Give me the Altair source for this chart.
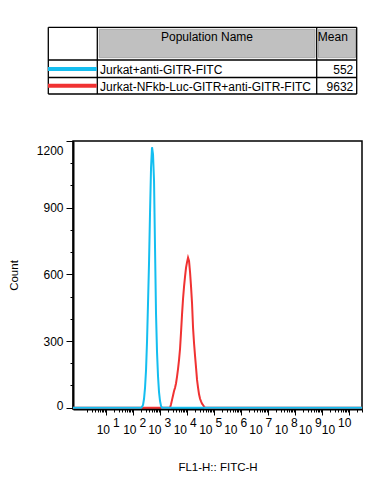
import altair as alt
import pandas as pd

FONT = "Liberation Sans"

# ---------------- data ----------------
# FITC-H intensity of each histogram bin and its event count
blue_x = [199, 217, 236, 257, 280, 305, 332, 361, 393, 429, 467, 508, 553, 603,
          656, 715, 778, 848, 923, 1005, 1095, 1192]
blue_count = [0, 4, 12, 40, 90, 170, 300, 470, 650, 880, 1080, 1172, 1140, 1020,
              720, 420, 250, 140, 70, 30, 8, 0]

red_x = [2358, 2568, 2797, 3046, 3317, 3613, 3934, 4285, 4666, 5081, 5534, 6026,
         6562, 7147, 7783, 8476, 9231, 10051, 10946, 11920, 12982, 14138, 15396,
         16765, 18259, 19885, 21655, 23583, 25681, 27969, 30459, 33167, 36122,
         39337, 42843, 46656]
red_count = [0, 15, 35, 55, 75, 90, 110, 140, 175, 215, 265, 340, 420, 490, 545,
             590, 630, 655, 675, 660, 610, 545, 470, 360, 290, 233, 180, 125, 90,
             60, 40, 28, 18, 12, 5, 0]

series_names = ["Jurkat+anti-GITR-FITC", "Jurkat-NFkb-Luc-GITR+anti-GITR-FITC"]
series_means = ["552", "9632"]
series_colors = ["#14BEF0", "#F03232"]
header_labels = ["Population Name", "Mean"]

x_domain = [0.6026, 3.02e10]
y_domain = [-6, 1200]
y_tick_values = [0, 100, 200, 300, 400, 500, 600, 700, 800, 900, 1000, 1100, 1200]
x_tick_mantissas = [1, 2, 3, 4, 5, 6, 7, 8, 9]
x_tick_decades = [0, 1, 2, 3, 4, 5, 6, 7, 8, 9, 10]
x_label_exponents = ["1", "2", "3", "4", "5", "6", "7", "8", "9", "10"]
x_label_log_pos = [1.2615, 2.243, 3.1689, 4.1133, 5.0578, 5.9837, 6.9096,
                   7.8541, 8.743, 9.5948]

# ---------------- frames ----------------
def series_frame(xs, counts):
    return pd.DataFrame({"fitc": [x_domain[0]] + xs + [x_domain[1]],
                         "count": [0] + counts + [0]})

blue_df = series_frame(blue_x, blue_count)
red_df = series_frame(red_x, red_count)

x_ticks = [m * 10 ** d for d in x_tick_decades for m in x_tick_mantissas
           if x_domain[0] <= m * 10 ** d <= x_domain[1] and not (d == 0 and m == 1)]

labels_df = pd.DataFrame({"fitc": [10 ** v for v in x_label_log_pos],
                          "exp": x_label_exponents, "base": "10"})

xscale = alt.Scale(type="log", domain=x_domain, nice=False)
yscale = alt.Scale(domain=y_domain, nice=False, zero=False)

x_axis = alt.Axis(
    values=x_ticks, labels=False, grid=False,
    tickSize={"condition": {"test": "abs(log(datum.value)/LN10 - round(log(datum.value)/LN10)) < 0.000001",
                            "value": 6}, "value": 3},
    tickColor="black", tickWidth=1, domainColor="black", domainWidth=2,
    title="FL1-H:: FITC-H", titleFontSize=11.5, titlePadding=46,
)
y_axis = alt.Axis(
    values=y_tick_values, grid=False,
    labelExpr="datum.value % 300 === 0 ? '' + datum.value : ''",
    labelOverlap=False, labelFontSize=12, labelPadding=3,
    labelOffset={"condition": [{"test": "datum.value === 1200", "value": 9},
                               {"test": "datum.value === 0", "value": -2}], "value": 0},
    tickSize={"condition": {"test": "datum.value % 300 === 0", "value": 7}, "value": 3},
    tickColor="black", tickWidth=1, domainColor="black", domainWidth=2,
    title="Count", titleFontSize=11.5, titlePadding=17,
)

X = alt.X("fitc:Q", scale=xscale, axis=x_axis)
Y = alt.Y("count:Q", scale=yscale, axis=y_axis)

red_line = alt.Chart(red_df).mark_line(color=series_colors[1], strokeWidth=2).encode(x=X, y=Y)
blue_line = alt.Chart(blue_df).mark_line(color=series_colors[0], strokeWidth=2).encode(x=X, y=Y)
base_text = alt.Chart(labels_df).mark_text(
    align="right", baseline="middle", dx=-3, font=FONT, fontSize=12, color="black"
).encode(x=X, y=alt.value(289), text="base:N")
exp_text = alt.Chart(labels_df).mark_text(
    align="left", baseline="middle", font=FONT, fontSize=12, color="black"
).encode(x=X, y=alt.value(281.5), text="exp:N")

hist = alt.layer(red_line, blue_line, base_text, exp_text)

# ---------------- legend table (layout in pixels relative to plot origin) ----------------
tx = [-24.7, 24.3, 243.7, 283.7]
ty = [-113.7, -81.0, -63.5, -47.0]
tsx = alt.Scale(domain=[-60, 320], range=[-60, 320], nice=False, zero=False)
tsy = alt.Scale(domain=[-130, 0], range=[-130, 0], nice=False, zero=False)

rules_df = pd.DataFrame(
    [{"x": tx[0], "x2": tx[3], "y": v, "y2": v} for v in ty]
    + [{"x": v, "x2": v, "y": ty[0], "y2": ty[3]} for v in tx]
)
boxes_df = pd.DataFrame({"x": [26.3, 245.5], "x2": [242.0, 282.5],
                         "y": [-111.7, -111.7], "y2": [-83.3, -83.3]})
swatch_df = pd.DataFrame({"x": -25.0, "x2": 23.7, "y": [-72.0, -55.3],
                          "color": series_colors})
names_df = pd.DataFrame({"x": 27.0, "y": [-71.0, -53.7], "t": series_names})
means_df = pd.DataFrame({"x": 280.3, "y": [-71.0, -53.7], "t": series_means})
head1_df = pd.DataFrame({"x": [134.0], "y": [-104.3], "t": [header_labels[0]]})
head2_df = pd.DataFrame({"x": [244.8], "y": [-104.3], "t": [header_labels[1]]})

TX = alt.X("x:Q", scale=tsx, axis=None)
TY = alt.Y("y:Q", scale=tsy, axis=None)

boxes = alt.Chart(boxes_df).mark_rect(fill="#C0C0C0", stroke="#A8A8A8", strokeWidth=1).encode(
    x=TX, y=TY, x2="x2:Q", y2="y2:Q")
rules = alt.Chart(rules_df).mark_rule(color="black", strokeWidth=1.3).encode(
    x=TX, y=TY, x2="x2:Q", y2="y2:Q")
swatches = alt.Chart(swatch_df).mark_rule(strokeWidth=4).encode(
    x=TX, x2="x2:Q", y=TY, color=alt.Color("color:N", scale=None))
txt = dict(font=FONT, fontSize=12, color="black", baseline="middle")
names = alt.Chart(names_df).mark_text(align="left", **txt).encode(x=TX, y=TY, text="t:N")
means = alt.Chart(means_df).mark_text(align="right", **txt).encode(x=TX, y=TY, text="t:N")
head1 = alt.Chart(head1_df).mark_text(align="center", **txt).encode(x=TX, y=TY, text="t:N")
head2 = alt.Chart(head2_df).mark_text(align="left", **txt).encode(x=TX, y=TY, text="t:N")

table = alt.layer(boxes, rules, swatches, names, means, head1, head2)

chart = alt.layer(hist, table).resolve_scale(x="independent", y="independent").properties(
    width=289, height=268,
    autosize=alt.AutoSizeParams(type="none"),
    padding={"left": 73, "top": 141, "right": 23, "bottom": 75},
    background="white",
).configure_view(stroke="black", strokeWidth=1.5).configure_axis(
    labelFont=FONT, titleFont=FONT, labelColor="black", titleColor="black",
    titleFontWeight="normal",
)

chart.save("out.html", embed_options={"renderer": "svg", "actions": False})
